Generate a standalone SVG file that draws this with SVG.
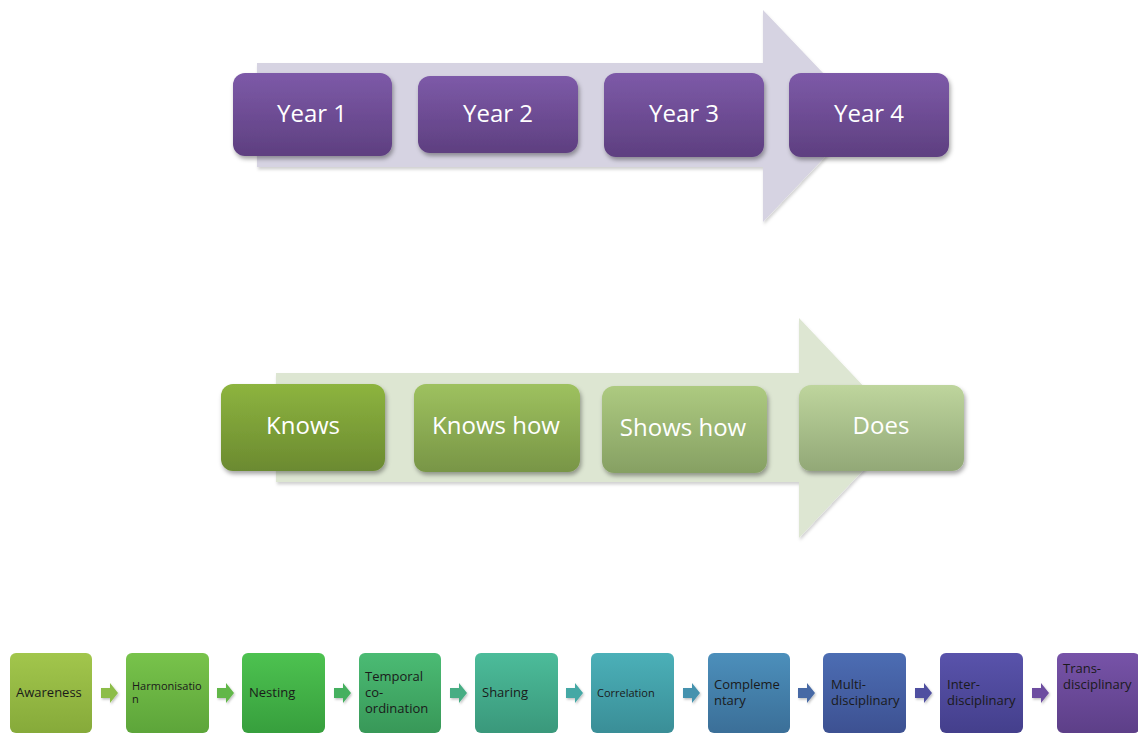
<svg xmlns="http://www.w3.org/2000/svg" width="1138" height="734" viewBox="0 0 1138 734">
<style>
.big{font-family:"Open Sans","Liberation Sans",sans-serif;font-size:24px;fill:#ffffff;text-anchor:middle}
.sm{font-family:"Open Sans","Liberation Sans",sans-serif;font-size:13px;fill:#1a1a1a}
.xs{font-family:"Open Sans","Liberation Sans",sans-serif;font-size:11px;fill:#1a1a1a}
</style>
<defs>
<filter id="sh" x="-10%" y="-10%" width="125%" height="135%">
<feDropShadow dx="1.5" dy="3" stdDeviation="2.2" flood-color="#000" flood-opacity="0.35"/>
</filter>
<filter id="sha" x="-5%" y="-5%" width="110%" height="115%">
<feDropShadow dx="1" dy="2.5" stdDeviation="1.5" flood-color="#000" flood-opacity="0.18"/>
</filter>
<filter id="shs" x="-10%" y="-10%" width="130%" height="130%">
<feDropShadow dx="1" dy="1.5" stdDeviation="1" flood-color="#000" flood-opacity="0.25"/>
</filter>
<linearGradient id="gp" x1="0" y1="0" x2="0" y2="1"><stop offset="0" stop-color="#7d5aa8"/><stop offset="1" stop-color="#5e3f80"/></linearGradient>
<linearGradient id="g1" x1="0" y1="0" x2="0" y2="1"><stop offset="0" stop-color="#8db43f"/><stop offset="1" stop-color="#6b8a30"/></linearGradient>
<linearGradient id="g2" x1="0" y1="0" x2="0" y2="1"><stop offset="0" stop-color="#9ec15f"/><stop offset="1" stop-color="#789546"/></linearGradient>
<linearGradient id="g3" x1="0" y1="0" x2="0" y2="1"><stop offset="0" stop-color="#adca80"/><stop offset="1" stop-color="#86a063"/></linearGradient>
<linearGradient id="g4" x1="0" y1="0" x2="0" y2="1"><stop offset="0" stop-color="#bed59d"/><stop offset="1" stop-color="#92a877"/></linearGradient>
<linearGradient id="b1" x1="0" y1="0" x2="0" y2="1"><stop offset="0" stop-color="#a2c64c"/><stop offset="1" stop-color="#86aa3a"/></linearGradient>
<linearGradient id="b2" x1="0" y1="0" x2="0" y2="1"><stop offset="0" stop-color="#78c34b"/><stop offset="1" stop-color="#5da53a"/></linearGradient>
<linearGradient id="b3" x1="0" y1="0" x2="0" y2="1"><stop offset="0" stop-color="#4dc250"/><stop offset="1" stop-color="#379f3d"/></linearGradient>
<linearGradient id="b4" x1="0" y1="0" x2="0" y2="1"><stop offset="0" stop-color="#4bbb74"/><stop offset="1" stop-color="#389858"/></linearGradient>
<linearGradient id="b5" x1="0" y1="0" x2="0" y2="1"><stop offset="0" stop-color="#4cbc9a"/><stop offset="1" stop-color="#3a987b"/></linearGradient>
<linearGradient id="b6" x1="0" y1="0" x2="0" y2="1"><stop offset="0" stop-color="#4bb0b8"/><stop offset="1" stop-color="#3a8e97"/></linearGradient>
<linearGradient id="b7" x1="0" y1="0" x2="0" y2="1"><stop offset="0" stop-color="#4c8fbb"/><stop offset="1" stop-color="#3b6f98"/></linearGradient>
<linearGradient id="b8" x1="0" y1="0" x2="0" y2="1"><stop offset="0" stop-color="#4c6db3"/><stop offset="1" stop-color="#3d5192"/></linearGradient>
<linearGradient id="b9" x1="0" y1="0" x2="0" y2="1"><stop offset="0" stop-color="#5953ab"/><stop offset="1" stop-color="#443f8c"/></linearGradient>
<linearGradient id="b10" x1="0" y1="0" x2="0" y2="1"><stop offset="0" stop-color="#7753a8"/><stop offset="1" stop-color="#5d3f88"/></linearGradient>
<path id="ar" d="M0,5 H9 V0 L17,10 L9,20 V15 H0 Z"/>
</defs>

<g id="connectors">
<path id="arrow-years" d="M257,63 H763 V10 L864,116 L763,222 V167 H257 Z" fill="#d6d3e2" filter="url(#sha)"/>
<path id="arrow-knows" d="M276,373 H799 V318 L903,428 L799,538 V482 H276 Z" fill="#dde6d2" filter="url(#sha)"/>
<g filter="url(#shs)">
<use href="#ar" x="101" y="683" fill="#8dbd48"/>
<use href="#ar" x="217" y="683" fill="#62b748"/>
<use href="#ar" x="334" y="683" fill="#45b05e"/>
<use href="#ar" x="450" y="683" fill="#47ad83"/>
<use href="#ar" x="566" y="683" fill="#45a8a5"/>
<use href="#ar" x="683" y="683" fill="#4592ae"/>
<use href="#ar" x="798" y="683" fill="#4669a5"/>
<use href="#ar" x="915" y="683" fill="#5050a0"/>
<use href="#ar" x="1032" y="683" fill="#6d4da0"/>
</g>
</g>

<g id="year1"><rect x="233" y="73" width="159" height="83" rx="12" fill="url(#gp)" filter="url(#sh)"/><text class="big" x="312" y="122">Year 1</text></g>
<g id="year2"><rect x="418" y="76" width="160" height="77" rx="12" fill="url(#gp)" filter="url(#sh)"/><text class="big" x="498" y="122">Year 2</text></g>
<g id="year3"><rect x="604" y="73" width="160" height="84" rx="12" fill="url(#gp)" filter="url(#sh)"/><text class="big" x="684" y="122">Year 3</text></g>
<g id="year4"><rect x="789" y="73" width="160" height="84" rx="12" fill="url(#gp)" filter="url(#sh)"/><text class="big" x="869" y="122">Year 4</text></g>

<g id="knows"><rect x="221" y="384" width="164" height="87" rx="12" fill="url(#g1)" filter="url(#sh)"/><text class="big" x="303" y="434">Knows</text></g>
<g id="knowshow"><rect x="414" y="384" width="166" height="88" rx="12" fill="url(#g2)" filter="url(#sh)"/><text class="big" x="496" y="434">Knows how</text></g>
<g id="showshow"><rect x="602" y="386" width="165" height="87" rx="12" fill="url(#g3)" filter="url(#sh)"/><text class="big" x="683" y="436">Shows how</text></g>
<g id="does"><rect x="799" y="385" width="165" height="86" rx="12" fill="url(#g4)" filter="url(#sh)"/><text class="big" x="881" y="434">Does</text></g>

<g id="awareness"><rect x="10" y="653" width="82" height="80" rx="6" fill="url(#b1)"/><text class="sm" x="16" y="697">Awareness</text></g>
<g id="harmonisation"><rect x="126" y="653" width="83" height="80" rx="6" fill="url(#b2)"/><text class="xs" x="132" y="690">Harmonisatio</text><text class="xs" x="132" y="703">n</text></g>
<g id="nesting"><rect x="242" y="653" width="83" height="80" rx="6" fill="url(#b3)"/><text class="sm" x="249" y="697">Nesting</text></g>
<g id="temporal"><rect x="359" y="653" width="82" height="80" rx="6" fill="url(#b4)"/><text class="sm" x="365" y="681">Temporal</text><text class="sm" x="365" y="697">co-</text><text class="sm" x="365" y="713">ordination</text></g>
<g id="sharing"><rect x="475" y="653" width="83" height="80" rx="6" fill="url(#b5)"/><text class="sm" x="482" y="697">Sharing</text></g>
<g id="correlation"><rect x="591" y="653" width="83" height="80" rx="6" fill="url(#b6)"/><text class="xs" x="597" y="697">Correlation</text></g>
<g id="complementary"><rect x="708" y="653" width="82" height="80" rx="6" fill="url(#b7)"/><text class="sm" x="714" y="689">Compleme</text><text class="sm" x="714" y="705">ntary</text></g>
<g id="multi"><rect x="823" y="653" width="83" height="80" rx="6" fill="url(#b8)"/><text class="sm" x="831" y="689">Multi-</text><text class="sm" x="831" y="705">disciplinary</text></g>
<g id="inter"><rect x="940" y="653" width="83" height="80" rx="6" fill="url(#b9)"/><text class="sm" x="947" y="689">Inter-</text><text class="sm" x="947" y="705">disciplinary</text></g>
<g id="trans"><rect x="1057" y="653" width="83" height="80" rx="6" fill="url(#b10)"/><text class="sm" x="1063" y="673">Trans-</text><text class="sm" x="1063" y="689">disciplinary</text></g>
</svg>
